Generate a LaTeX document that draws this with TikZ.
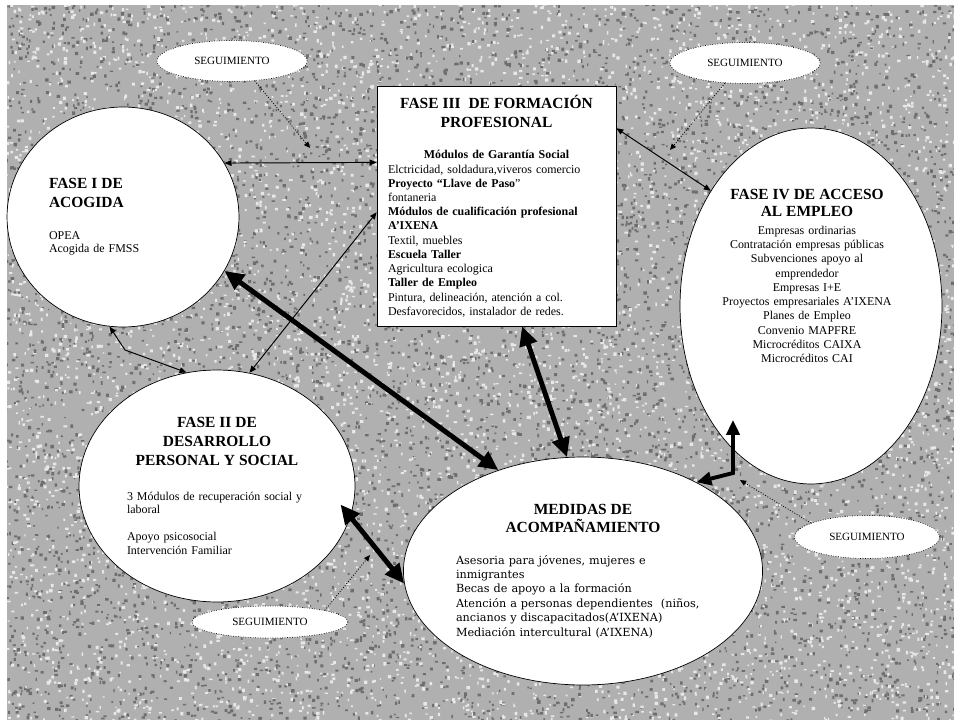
\documentclass[tikz,border=0pt]{standalone}
\usepackage{fontspec}
\setmainfont{Liberation Serif}
\newfontfamily\medidasfont{DejaVu Serif}
\usetikzlibrary{shapes.geometric,arrows.meta}

\newcommand{\titlefont}{\fontsize{8.8}{10.8}\selectfont\bfseries}
\newcommand{\bodyfont}{\fontsize{6.8}{8.1}\selectfont}

\tikzset{
  phase/.style={ellipse, draw, fill=white, inner sep=0pt, font=\bodyfont},
  fasebox/.style={rectangle, draw, fill=white, inner sep=0pt, minimum width=4.78cm, minimum height=4.8cm, text width=4.34cm, font=\bodyfont},
  seguim/.style={ellipse, draw, densely dotted, fill=white, minimum width=3cm, minimum height=0.82cm, inner sep=0pt, font=\fontsize{6.3}{7}\selectfont},
  thinlink/.style={{Triangle[length=4pt,width=3.2pt]}-{Triangle[length=4pt,width=3.2pt]}, line width=0.55pt},
  thicklink/.style={{Triangle[length=11pt,width=10pt]}-{Triangle[length=11pt,width=10pt]}, line width=2.8pt},
  elbowlink/.style={{Triangle[length=8.5pt,width=7.5pt]}-{Triangle[length=8.5pt,width=7.5pt]}, line width=2.2pt},
  follow/.style={densely dotted, -{Triangle[length=3.5pt,width=3pt]}, line width=0.5pt},
}

\begin{document}
\begin{tikzpicture}[x=0.02cm, y=-0.02cm]
\useasboundingbox (0,0) rectangle (954,720);

% granite background
\pgfmathsetseed{42}
\begin{scope}
\clip (7,5) rectangle (954,720);
\fill[black!31] (7,5) rectangle (954,720);
\foreach \j in {1,...,12}{
  \fill[black!57] foreach \k in {1,...,600}{({5+949*rnd},{3+717*rnd}) rectangle ++({1.3+2.3*rnd},{1.3+2.3*rnd})};
  \fill[black!9] foreach \k in {1,...,550}{({5+949*rnd},{3+717*rnd}) rectangle ++({1.3+2.3*rnd},{1.3+2.3*rnd})};
}
\end{scope}

% phases
\node[phase, minimum width=4.64cm, minimum height=4.4cm, text width=2.96cm] (fase1) at (123,217) {%
  \raggedright
  {\titlefont FASE I DE\\ACOGIDA\par}
  \vspace{11pt}
  \fontsize{6.8}{7.4}\selectfont
  OPEA\\Acogida de FMSS\par};

\node[fasebox] (fase3) at (496.5,206) {%
  \raggedright
  {\centering\titlefont FASE III\ \ DE FORMACIÓN\\PROFESIONAL\par}
  \vspace{10pt}
  {\centering\textbf{Módulos de Garantía Social}\par}
  Elctricidad, soldadura,viveros comercio\\
  \textbf{Proyecto “Llave de Paso}”\\
  fontaneria\\
  \textbf{Módulos de cualificación profesional}\\
  \textbf{A’IXENA}\\
  Textil, muebles\\
  \textbf{Escuela Taller}\\
  Agricultura ecologica\\
  \textbf{Taller de Empleo}\\
  Pintura, delineación, atención a col.\\
  Desfavorecidos, instalador de redes.\par};

\node[phase, minimum width=5.24cm, minimum height=7.12cm] (fase4) at (811,306) {};
\node[text width=3.8cm, inner sep=0pt, font=\bodyfont] (fase4txt) at (807,276) {%
  {\centering\fontsize{8.8}{9.8}\selectfont\bfseries FASE IV DE ACCESO\\AL EMPLEO\par}
  \vspace{2pt}
  {\centering Empresas ordinarias\\
  Contratación empresas públicas\\
  Subvenciones apoyo al\\
  emprendedor\\
  Empresas I+E\\
  Proyectos empresariales A’IXENA\\
  Planes de Empleo\\
  Convenio MAPFRE\\
  Microcréditos CAIXA\\
  Microcréditos CAI\par}};

\node[phase, minimum width=5.52cm, minimum height=4.64cm, text width=3.6cm] (fase2) at (217,486) {%
  \raggedright
  {\centering\titlefont FASE II DE\\DESARROLLO\\PERSONAL Y SOCIAL\par}
  \vspace{12pt}
  \fontsize{6.8}{7.6}\selectfont
  3 Módulos de recuperación social y\\laboral\par
  \vspace{8pt}
  Apoyo psicosocial\\Intervención Familiar\par};

\node[phase, minimum width=7.12cm, minimum height=4.56cm, text width=5.08cm] (medidas) at (583,571) {%
  \raggedright
  {\centering\fontsize{8.8}{10.2}\selectfont\bfseries MEDIDAS DE\\ACOMPAÑAMIENTO\par}
  \vspace{10pt}
  {\medidasfont\fontsize{6.4}{8.2}\selectfont
  Asesoria para jóvenes, mujeres e\\
  inmigrantes\\
  Becas de apoyo a la formación\\
  Atención a personas dependientes\ \ (niños,\\
  ancianos y discapacitados(A’IXENA)\\
  Mediación intercultural (A’IXENA)\par}};

% follow-up
\node[seguim] (seg1) at (232,61) {SEGUIMIENTO};
\node[seguim] (seg2) at (745,63) {SEGUIMIENTO};
\node[seguim, minimum width=3.12cm, minimum height=0.64cm] (seg3) at (270,622) {SEGUIMIENTO};
\node[seguim, minimum width=2.9cm, minimum height=0.86cm] (seg4) at (867,537) {SEGUIMIENTO};

\coordinate (look1) at (310,148);
\coordinate (look2) at (670,150);
\coordinate (look3) at (370,555);
\coordinate (look4) at (740,480);
\coordinate (kink1) at (125,350);
\coordinate (kink2) at (733,473);
\coordinate (tip4) at (733,420);

% links
\draw[thinlink] (fase1.28) -- (fase3.160);
\draw[thinlink] (fase2.74) -- (fase3.183);
\draw[thinlink] (fase1.263) -- (kink1) -- (fase2.105);
\draw[thinlink] (fase3.33) -- (fase4.131);
\draw[thicklink] (fase1.-28) -- (medidas.130);
\draw[thicklink] (fase3.-78) -- (medidas.98);
\draw[thicklink, shorten <=-9pt] (fase2.-13) -- (medidas.184);
\draw[elbowlink] (medidas.38) -- (kink2) -- (tip4);

\draw[follow] (seg1.-41) -- (look1);
\draw[follow] (seg2.-135) -- (look2);
\draw[follow] (seg3.12) -- (look3);
\draw[follow] (seg4.166) -- (look4);
\end{tikzpicture}
\end{document}
